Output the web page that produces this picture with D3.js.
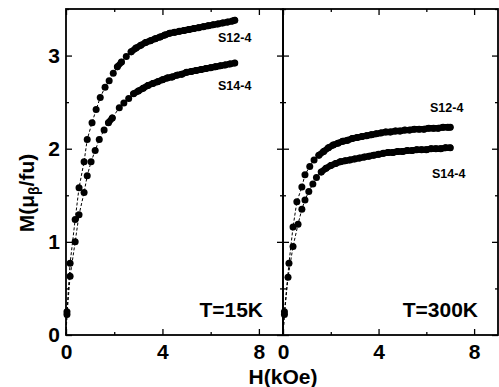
<!DOCTYPE html>
<html>
<head>
<meta charset="utf-8">
<script src="https://cdn.jsdelivr.net/npm/d3@7"></script>
<style>
  body { margin: 0; background: #fff; }
  svg { display: block; font-family: "Liberation Sans", Arial, sans-serif; }
</style>
</head>
<body>
<div id="chart"></div>
<script>
// T=15K panel
const h15_s12 = [0.04, 0.17, 0.38, 0.54, 0.75, 0.88, 1.08, 1.25, 1.42, 1.62, 1.79, 1.96, 2.13,
  2.3, 2.5, 2.7, 2.9, 3.1, 3.3, 3.5, 3.7, 3.9, 4.1, 4.3, 4.5, 4.7, 4.9, 5.1, 5.3, 5.5, 5.7, 5.9, 6.1, 6.3, 6.5, 6.7, 6.9, 7.0];
const m15_s12 = [0.25, 0.77, 1.24, 1.58, 1.86, 2.10, 2.28, 2.42, 2.55, 2.66, 2.73, 2.81, 2.88,
  2.93, 2.99, 3.04, 3.08, 3.11, 3.14, 3.16, 3.18, 3.20, 3.22, 3.24, 3.25, 3.26, 3.27, 3.28, 3.29, 3.30, 3.31, 3.32, 3.33, 3.34, 3.35, 3.36, 3.37, 3.38];
const h15_s14 = [0.04, 0.17, 0.38, 0.54, 0.75, 0.88, 1.04, 1.21, 1.38, 1.58, 1.76, 1.92, 2.21,
  2.4, 2.6, 2.8, 3.0, 3.2, 3.4, 3.6, 3.8, 4.0, 4.2, 4.4, 4.6, 4.8, 5.0, 5.2, 5.4, 5.6, 5.8, 6.0, 6.2, 6.4, 6.6, 6.8, 7.0];
const m15_s14 = [0.22, 0.63, 1.00, 1.29, 1.53, 1.71, 1.86, 1.98, 2.10, 2.20, 2.28, 2.33, 2.44,
  2.49, 2.54, 2.59, 2.62, 2.65, 2.68, 2.70, 2.72, 2.74, 2.76, 2.77, 2.79, 2.80, 2.82, 2.83, 2.84, 2.85, 2.86, 2.87, 2.88, 2.89, 2.90, 2.91, 2.92];

// T=300K panel
const h300_s12 = [0.06, 0.25, 0.42, 0.58, 0.79, 0.92, 1.12,
  1.3, 1.5, 1.7, 1.9, 2.1, 2.3, 2.5, 2.7, 2.9, 3.1, 3.3, 3.5, 3.7, 3.9, 4.1, 4.3, 4.5, 4.7, 4.9, 5.1, 5.3, 5.5, 5.7, 5.9, 6.1, 6.3, 6.5, 6.7, 6.9, 7.0];
const m300_s12 = [0.25, 0.77, 1.16, 1.43, 1.59, 1.72, 1.81,
  1.88, 1.93, 1.97, 2.01, 2.04, 2.06, 2.08, 2.09, 2.11, 2.12, 2.13, 2.14, 2.15, 2.16, 2.17, 2.18, 2.18, 2.19, 2.19, 2.20, 2.20, 2.21, 2.21, 2.21, 2.22, 2.22, 2.22, 2.23, 2.23, 2.23];
const h300_s14 = [0.06, 0.21, 0.42, 0.63, 0.79, 0.92, 1.08, 1.25,
  1.4, 1.6, 1.8, 2.0, 2.2, 2.4, 2.6, 2.8, 3.0, 3.2, 3.4, 3.6, 3.8, 4.0, 4.2, 4.4, 4.6, 4.8, 5.0, 5.2, 5.4, 5.6, 5.8, 6.0, 6.2, 6.4, 6.6, 6.8, 7.0];
const m300_s14 = [0.22, 0.62, 0.95, 1.19, 1.35, 1.45, 1.54, 1.62,
  1.69, 1.75, 1.79, 1.82, 1.84, 1.86, 1.87, 1.88, 1.89, 1.90, 1.91, 1.92, 1.93, 1.94, 1.95, 1.96, 1.96, 1.97, 1.97, 1.98, 1.98, 1.99, 1.99, 1.99, 2.00, 2.00, 2.00, 2.01, 2.01];

const xMajor = [0, 4, 8];
const xMinor = [2, 6];
const yMajor = [0, 1, 2, 3];
const yMinor = [0.5, 1.5, 2.5, 3.5];

const width = 499, height = 387;
const plotTop = 9, plotBottom = 335;

const svg = d3.select('#chart').append('svg')
  .attr('width', width)
  .attr('height', height);

const y = d3.scaleLinear([0, 3.5], [plotBottom, plotTop]);

const panels = [
  { x: d3.scaleLinear([0, 9], [66, 283]), label: 'T=15K', first: true,
    series: [
      { h: h15_s12, m: m15_s12, name: 'S12-4', lx: 218, ly: 42 },
      { h: h15_s14, m: m15_s14, name: 'S14-4', lx: 218, ly: 90 }
    ] },
  { x: d3.scaleLinear([0, 9], [283, 498]), label: 'T=300K', first: false,
    series: [
      { h: h300_s12, m: m300_s12, name: 'S12-4', lx: 430, ly: 112 },
      { h: h300_s14, m: m300_s14, name: 'S14-4', lx: 432, ly: 178 }
    ] }
];

const styleAxis = (g) => {
  g.select('.domain').remove();
  g.selectAll('line').attr('stroke', '#000').attr('stroke-width', 1.3);
  g.selectAll('text')
    .attr('fill', '#000')
    .attr('font-size', 21)
    .attr('font-weight', 'bold')
    .attr('font-family', '"Liberation Sans", Arial, sans-serif');
};

panels.forEach((p) => {
  const x = p.x;
  const [x0, x1] = x.range();

  // frame
  svg.append('rect')
    .attr('x', x0).attr('y', plotTop)
    .attr('width', x1 - x0).attr('height', plotBottom - plotTop)
    .attr('fill', 'none')
    .attr('stroke', '#000')
    .attr('stroke-width', 1.8);

  // bottom axis
  svg.append('g').attr('transform', `translate(0,${plotBottom})`)
    .call(d3.axisBottom(x).tickValues(xMajor).tickSize(-6).tickSizeOuter(0).tickPadding(9).tickFormat(d3.format('d')))
    .call(styleAxis);
  svg.append('g').attr('transform', `translate(0,${plotBottom})`)
    .call(d3.axisBottom(x).tickValues(xMinor).tickSize(-3).tickSizeOuter(0).tickFormat(''))
    .call(styleAxis);
  // top axis
  svg.append('g').attr('transform', `translate(0,${plotTop})`)
    .call(d3.axisTop(x).tickValues(xMajor).tickSize(-6).tickSizeOuter(0).tickFormat(''))
    .call(styleAxis);
  svg.append('g').attr('transform', `translate(0,${plotTop})`)
    .call(d3.axisTop(x).tickValues(xMinor).tickSize(-3).tickSizeOuter(0).tickFormat(''))
    .call(styleAxis);
  // left axis
  svg.append('g').attr('transform', `translate(${x0},0)`)
    .call(d3.axisLeft(y).tickValues(yMajor).tickSize(-6).tickSizeOuter(0).tickPadding(6)
      .tickFormat(p.first ? d3.format('d') : ''))
    .call(styleAxis);
  svg.append('g').attr('transform', `translate(${x0},0)`)
    .call(d3.axisLeft(y).tickValues(yMinor).tickSize(-3).tickSizeOuter(0).tickFormat(''))
    .call(styleAxis);
  // right axis
  svg.append('g').attr('transform', `translate(${x1},0)`)
    .call(d3.axisRight(y).tickValues(yMajor).tickSize(-6).tickSizeOuter(0).tickFormat(''))
    .call(styleAxis);
  svg.append('g').attr('transform', `translate(${x1},0)`)
    .call(d3.axisRight(y).tickValues(yMinor).tickSize(-3).tickSizeOuter(0).tickFormat(''))
    .call(styleAxis);

  p.series.forEach((s) => {
    const pts = s.h.map((h, i) => [h, s.m[i]]);
    const line = d3.line().x((d) => x(d[0])).y((d) => y(d[1]));
    svg.append('path')
      .datum([[0, 0], ...pts])
      .attr('d', line)
      .attr('fill', 'none')
      .attr('stroke', '#000')
      .attr('stroke-width', 1)
      .attr('stroke-dasharray', '3 2');

    // where the measured points sit close together they merge into a band
    const segs = d3.pairs(pts).filter(([a, b]) =>
      Math.hypot(x(b[0]) - x(a[0]), y(b[1]) - y(a[1])) < 6.5);
    svg.append('g').selectAll('path')
      .data(segs)
      .join('path')
      .attr('d', line)
      .attr('stroke', '#000')
      .attr('stroke-width', 6.4)
      .attr('stroke-linecap', 'round');

    svg.append('g').selectAll('circle')
      .data(pts)
      .join('circle')
      .attr('cx', (d) => x(d[0]))
      .attr('cy', (d) => y(d[1]))
      .attr('r', 3.5)
      .attr('fill', '#000');

    svg.append('text')
      .attr('x', s.lx).attr('y', s.ly)
      .attr('font-size', 12.5)
      .attr('font-weight', 'bold')
      .text(s.name);
  });

  svg.append('text')
    .attr('x', x1 - 20).attr('y', 317)
    .attr('text-anchor', 'end')
    .attr('font-size', 21)
    .attr('font-weight', 'bold')
    .text(p.label);
});

// axis titles
svg.append('text')
  .attr('x', 283).attr('y', 384)
  .attr('text-anchor', 'middle')
  .attr('font-size', 21)
  .attr('font-weight', 'bold')
  .text('H(kOe)');

const yTitle = svg.append('text')
  .attr('transform', 'translate(34,193) rotate(-90)')
  .attr('text-anchor', 'middle')
  .attr('font-size', 21)
  .attr('font-weight', 'bold');
yTitle.append('tspan').text('M(μ');
yTitle.append('tspan').attr('font-size', 14).attr('dy', 5).text('β');
yTitle.append('tspan').attr('dy', -5).text('/fu)');
</script>
</body>
</html>
